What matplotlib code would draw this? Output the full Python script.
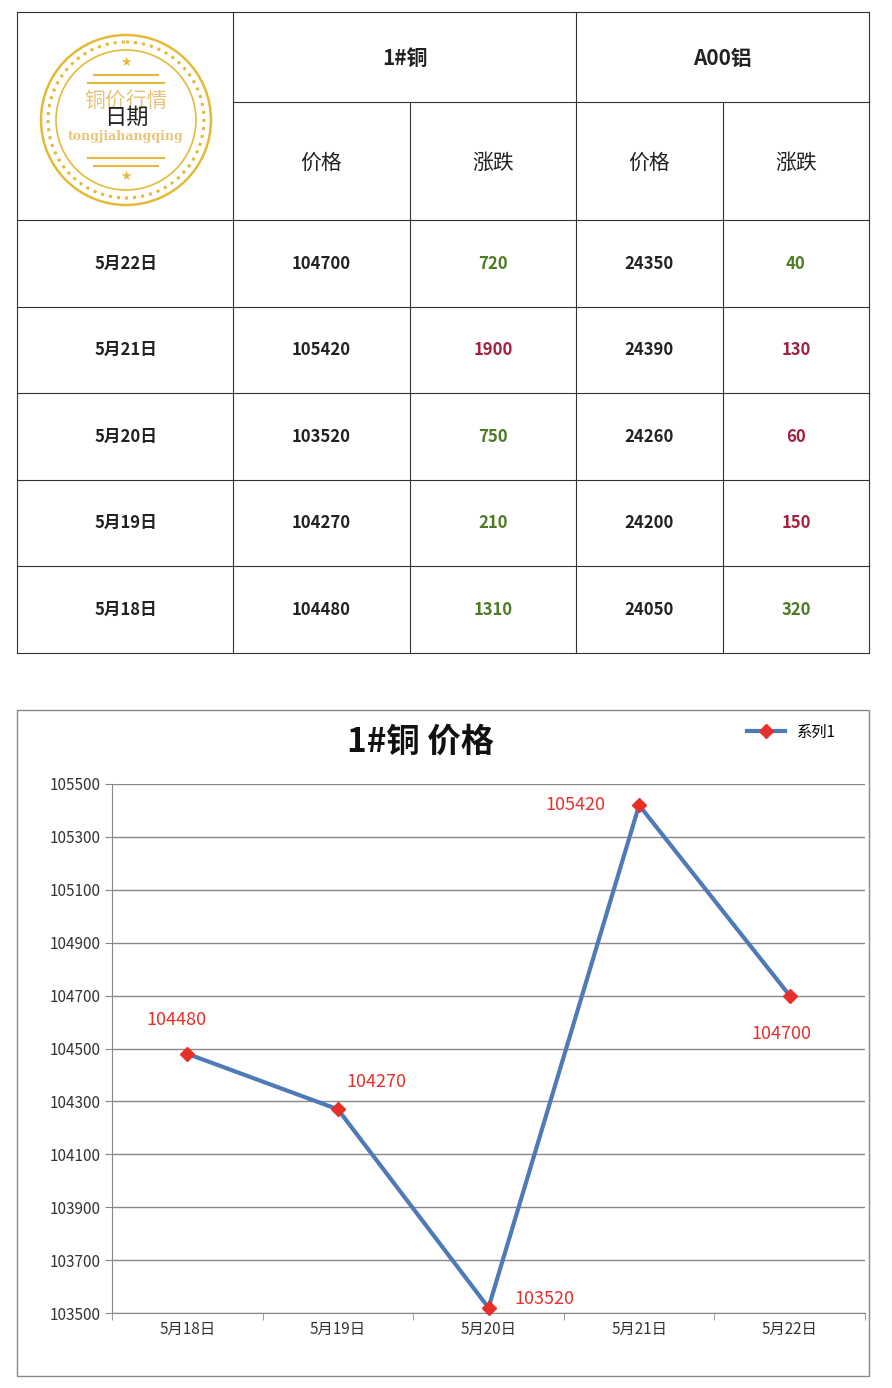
import matplotlib
matplotlib.use("Agg")
import matplotlib.pyplot as plt
from matplotlib.patches import Circle

plt.rcParams['font.family'] = ['Noto Sans CJK SC', 'DejaVu Sans']

dates = ['5月22日', '5月21日', '5月20日', '5月19日', '5月18日']
cu_price = [104700, 105420, 103520, 104270, 104480]
cu_change = [720, 1900, 750, 210, 1310]
cu_up = [False, True, False, False, False]
al_price = [24350, 24390, 24260, 24200, 24050]
al_change = [40, 130, 60, 150, 320]
al_up = [False, True, True, True, False]

chart_dates = ['5月18日', '5月19日', '5月20日', '5月21日', '5月22日']
chart_prices = [104480, 104270, 103520, 105420, 104700]
yticks = list(range(103500, 105501, 200))

GREEN, RED = '#4e7a23', '#a3213f'
GOLD = '#e5b93a'

fig = plt.figure(figsize=(8.92, 13.88), dpi=100)
bg = fig.add_axes([0, 0, 1, 1])
bg.set_xlim(0, 892)
bg.set_ylim(1388, 0)
bg.axis('off')

# table grid
xs = [17, 233, 410, 576, 723, 869]
ys = [12, 220, 307, 393, 480, 566, 653]
lw = 0.8
for y in ys:
    bg.plot([17, 869], [y, y], color='#333', lw=lw)
bg.plot([233, 869], [102, 102], color='#333', lw=lw)
for x in xs:
    top = 102 if x in (410, 723) else 12
    bg.plot([x, x], [top, 653], color='#333', lw=lw)

bg.text(405, 58, '1#铜', ha='center', va='center', fontsize=15, weight='bold', color='#222')
bg.text(722, 58, 'A00铝', ha='center', va='center', fontsize=15, weight='bold', color='#222')
for cx, lab in zip([321, 493, 649, 796], ['价格', '涨跌', '价格', '涨跌']):
    bg.text(cx, 163, lab, ha='center', va='center', fontsize=15, color='#222')

# logo
for r, w, ls in [(85, 1.8, '-'), (78, 2.2, ':'), (70, 1.2, '-')]:
    bg.add_patch(Circle((126, 120), r, fill=False, ec=GOLD, lw=w, ls=ls))
for y, half in [(75, 32), (83, 38), (158, 38), (166, 32)]:
    bg.plot([126 - half, 126 + half], [y, y], color=GOLD, lw=1.5)
bg.text(126, 62, '★', ha='center', va='center', fontsize=9, color=GOLD, family='DejaVu Sans')
bg.text(126, 176, '★', ha='center', va='center', fontsize=9, color=GOLD, family='DejaVu Sans')
bg.text(126, 101, '铜价行情', ha='center', va='center', fontsize=15, color='#e8c47a')
bg.text(126, 136, 'tongjiahangqing', ha='center', va='center', fontsize=9, weight='bold',
        color='#e8c47a', family='DejaVu Serif')
bg.text(126, 117, '日期', ha='center', va='center', fontsize=16, color='#222')

for i in range(5):
    cy = (ys[i + 1] + ys[i + 2]) / 2
    bg.text(126, cy, dates[i], ha='center', va='center', fontsize=12, weight='bold', color='#222')
    bg.text(321, cy, str(cu_price[i]), ha='center', va='center', fontsize=12, weight='bold', color='#222')
    bg.text(493, cy, str(cu_change[i]), ha='center', va='center', fontsize=12, weight='bold',
            color=RED if cu_up[i] else GREEN)
    bg.text(649, cy, str(al_price[i]), ha='center', va='center', fontsize=12, weight='bold', color='#222')
    bg.text(796, cy, str(al_change[i]), ha='center', va='center', fontsize=12, weight='bold',
            color=RED if al_up[i] else GREEN)

# chart frame
bg.add_patch(plt.Rectangle((17, 710), 852, 666, fill=False, ec='#888', lw=1))

ax = fig.add_axes([112 / 892, 1 - 1313 / 1388, 753 / 892, (1313 - 784) / 1388])
ax.set_xlim(-0.5, 4.5)
ax.set_ylim(103500, 105500)
ax.set_yticks(yticks)
ax.set_yticklabels([str(v) for v in yticks], fontsize=11, color='#333')
ax.grid(axis='y', color='#888', lw=1)
ax.set_axisbelow(True)
for s in ['top', 'right']:
    ax.spines[s].set_visible(False)
ax.spines['left'].set_color('#888')
ax.spines['bottom'].set_color('#888')
ax.set_xticks(range(5))
ax.set_xticklabels(chart_dates, fontsize=11, color='#333')
ax.set_xticks([i + 0.5 for i in range(-1, 5)], minor=True)
ax.tick_params(axis='x', which='major', length=0, pad=6)
ax.tick_params(axis='x', which='minor', length=5, color='#888')
ax.tick_params(axis='y', length=5, color='#888')

ax.plot(range(5), chart_prices, color='#4f7ab8', lw=3, marker='D', ms=7,
        mfc='#e8302a', mec='#e8302a', label='系列1', clip_on=False, zorder=3)
offsets = [(-8, 24), (28, 20), (40, 6), (-46, 0), (-6, -28)]
for i, (v, (dx, dy)) in enumerate(zip(chart_prices, offsets)):
    ax.annotate(str(v), (i, v), xytext=(dx, dy), textcoords='offset points', ha='center',
                va='center', fontsize=13, color='#e8302a')
ax.legend(loc='upper right', bbox_to_anchor=(0.98, 1.14), frameon=False, fontsize=11,
          handlelength=2.5)

fig.text(421 / 892, 1 - 742 / 1388, '1#铜 价格', ha='center', va='center', fontsize=24,
         weight='bold', color='#111')

fig.savefig('out.png', dpi=100)
